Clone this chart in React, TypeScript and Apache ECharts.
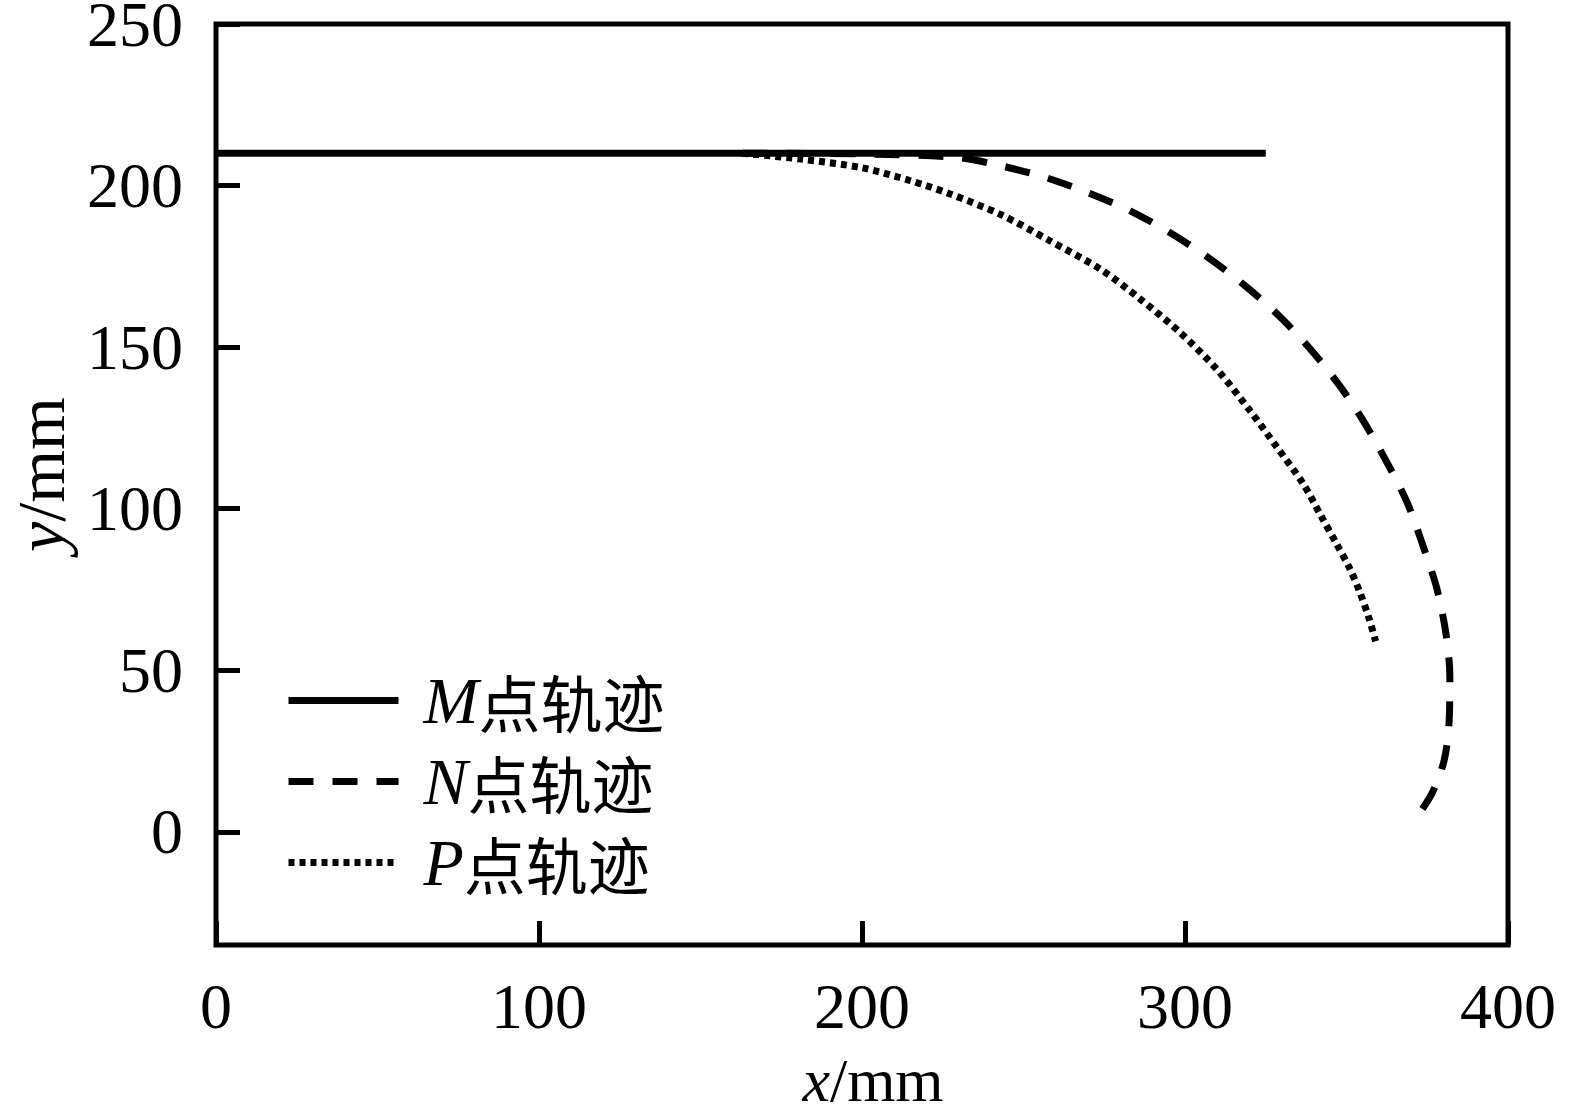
import React, { useEffect, useRef } from "react";
import * as echarts from "echarts";

// Series names (legend labels)
const seriesNames = ["M点轨迹", "N点轨迹", "P点轨迹"];

// Trajectory of point M (x, y in mm)
const mTrack: number[][] = [
  [0, 210],
  [325, 210],
];

// Trajectory of point N (x, y in mm)
const nTrack: number[][] = [
  [163, 210],
  [200, 209.8],
  [229.5, 208.7],
  [242.8, 206.2],
  [256.8, 202.5],
  [270, 197.8],
  [283, 192.2],
  [295.4, 185.4],
  [307.2, 177.7],
  [318.6, 169],
  [329, 159.8],
  [338.7, 149.5],
  [347.4, 138.7],
  [355.2, 127.2],
  [362.6, 114.2],
  [368.8, 101.9],
  [373.7, 88.5],
  [378, 75.2],
  [380.8, 61.3],
  [382, 48],
  [381.7, 33],
  [380.2, 22],
  [376.5, 12],
  [371, 3.5],
];

// Trajectory of point P (x, y in mm)
const pTrack: number[][] = [
  [163, 210],
  [181, 208.2],
  [200, 205.5],
  [215, 201.5],
  [227, 197.5],
  [243, 191],
  [258, 183],
  [274, 174],
  [286, 165],
  [298.5, 154.5],
  [310, 143],
  [320, 130.5],
  [328.5, 119],
  [336.6, 107.7],
  [342, 98],
  [347, 89],
  [351, 81.5],
  [354.2, 74],
  [357, 66],
  [359, 59],
];

// Axis ranges
const xRange = [0, 400];
const xStep = 100;
const yRange = [-35, 250];

const SERIF = "'Liberation Serif', 'Times New Roman', serif";
const CJK = "'Noto Sans CJK SC', sans-serif";

export default function App() {
  const ref = useRef<HTMLDivElement>(null);

  useEffect(() => {
    if (!ref.current) return;
    const chart = echarts.init(ref.current, undefined, { renderer: "svg" });

    const lineBase = { color: "#000", width: 7, cap: "butt" as const };

    chart.setOption({
      animation: false,
      backgroundColor: "#fff",
      grid: {
        left: 216,
        right: 68,
        top: 24,
        bottom: 170,
        containLabel: false,
        outerBoundsMode: "none",
        show: true,
        borderColor: "#000",
        borderWidth: 5,
      },
      legend: {
        orient: "vertical",
        left: 280,
        top: 655,
        itemWidth: 110,
        itemHeight: 14,
        itemGap: 0,
        data: seriesNames,
        itemStyle: { opacity: 0, borderWidth: 0 },
        lineStyle: { width: 7, color: "#000", type: "inherit", cap: "butt" },
        formatter: (name: string) => `{i|${name[0]}}{c|${name.slice(1)}}`,
        textStyle: {
          padding: [0, 0, 0, 20],
          lineHeight: 81,
          rich: {
            i: {
              fontFamily: SERIF,
              fontStyle: "italic",
              fontSize: 66,
              color: "#000",
              lineHeight: 81,
            },
            c: {
              fontFamily: CJK,
              fontSize: 62,
              color: "#000",
              lineHeight: 81,
            },
          },
        },
      },
      xAxis: {
        type: "value",
        min: xRange[0],
        max: xRange[1],
        interval: xStep,
        name: "{i|x}{n|/mm}",
        nameLocation: "middle",
        nameGap: 107,
        nameMoveOverlap: false,
        nameTextStyle: {
          padding: [0, 0, 0, 22],
          lineHeight: 56,
          rich: {
            i: { fontFamily: SERIF, fontStyle: "italic", fontSize: 62, color: "#000", lineHeight: 56 },
            n: { fontFamily: SERIF, fontSize: 62, color: "#000", lineHeight: 56 },
          },
        },
        axisLine: { show: false, onZero: false },
        axisTick: {
          show: true,
          inside: true,
          length: 24,
          lineStyle: { color: "#000", width: 5 },
        },
        axisLabel: {
          margin: 29,
          fontFamily: SERIF,
          fontSize: 64,
          color: "#000",
        },
        splitLine: { show: false },
      },
      yAxis: {
        type: "value",
        min: yRange[0],
        max: yRange[1],
        name: "{i|y}{n|/mm}",
        nameLocation: "middle",
        nameRotate: 90,
        nameGap: 150,
        nameMoveOverlap: false,
        nameTextStyle: {
          padding: [0, 0, 0, 20],
          lineHeight: 50,
          rich: {
            i: { fontFamily: SERIF, fontStyle: "italic", fontSize: 68, color: "#000", lineHeight: 50 },
            n: { fontFamily: SERIF, fontSize: 68, color: "#000", lineHeight: 50 },
          },
        },
        axisLine: { show: false, onZero: false },
        axisTick: {
          show: true,
          inside: true,
          length: 24,
          lineStyle: { color: "#000", width: 5 },
        },
        axisLabel: {
          margin: 33,
          fontFamily: SERIF,
          fontSize: 64,
          color: "#000",
          showMinLabel: false,
        },
        splitLine: { show: false },
      },
      series: [
        {
          name: seriesNames[0],
          type: "line",
          data: mTrack,
          showSymbol: false,
          symbol: "none",
          z: 4,
          itemStyle: { color: "#000" },
          lineStyle: { ...lineBase, type: "solid" },
        },
        {
          name: seriesNames[1],
          type: "line",
          data: nTrack,
          showSymbol: false,
          symbol: "none",
          smooth: 0.3,
          z: 3,
          itemStyle: { color: "#000" },
          lineStyle: { ...lineBase, type: [25, 19] },
        },
        {
          name: seriesNames[2],
          type: "line",
          data: pTrack,
          showSymbol: false,
          symbol: "none",
          smooth: 0.3,
          z: 2,
          itemStyle: { color: "#000" },
          lineStyle: { ...lineBase, type: [6, 5] },
        },
      ],
    });

    return () => {
      chart.dispose();
    };
  }, []);

  return (
    <div
      ref={ref}
      style={{ position: "absolute", left: 0, top: 0, width: 1576, height: 1115, background: "#fff" }}
    />
  );
}
